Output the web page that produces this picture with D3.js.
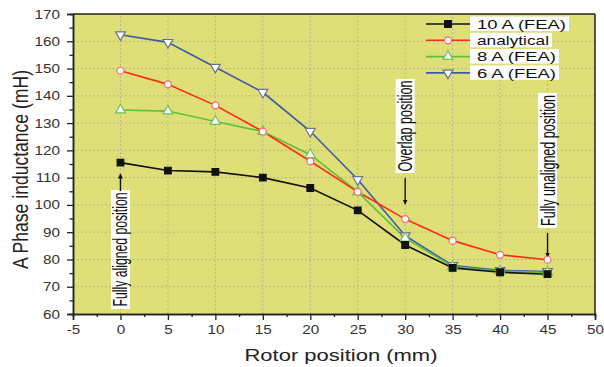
<!DOCTYPE html>
<html>
<head>
<meta charset="utf-8">
<script src="https://cdn.jsdelivr.net/npm/d3@7/dist/d3.min.js"></script>
<style>
  html, body { margin: 0; padding: 0; background: #fff; }
  svg { display: block; font-family: Arial, "Liberation Sans", Helvetica, sans-serif; }
</style>
</head>
<body>
<svg id="chart" width="604" height="367"></svg>
<script>
// Rotor positions (mm)
const positions = [0, 5, 10, 15, 20, 25, 30, 35, 40, 45];

// Phase inductance (mH) for each series
const fea10A     = [115.5, 112.6, 112.1, 110.0, 106.2, 98.0, 85.3, 76.9, 75.3, 74.6];
const analytical = [149.2, 144.2, 136.5, 126.9, 116.0, 104.8, 94.8, 86.9, 81.7, 79.9];
const fea8A      = [134.8, 134.4, 130.6, 126.9, 118.4, 104.8, 87.8, 77.4, 75.7, 75.2];
const fea6A      = [162.4, 159.6, 150.5, 141.3, 127.0, 109.3, 88.7, 77.8, 76.0, 75.6];

const seriesNames = ["10 A (FEA)", "analytical", "8 A (FEA)", "6 A (FEA)"];

const xTicks = [-5, 0, 5, 10, 15, 20, 25, 30, 35, 40, 45, 50];
const yTicks = [60, 70, 80, 90, 100, 110, 120, 130, 140, 150, 160, 170];

// Annotated rotor positions
const noteLabels = ["Fully aligned position", "Overlap position", "Fully unaligned position"];
const notePositions = [0, 30, 45];

const svg = d3.select("#chart");
const margin = { left: 73, right: 9, top: 14, bottom: 53 };
const W = 604, H = 367;

const x = d3.scaleLinear().domain([-5, 50]).range([margin.left, W - margin.right]);
const y = d3.scaleLinear().domain([60, 170]).range([H - margin.bottom, margin.top]);

// Text is drawn wide along the horizontal direction
function widen(sel, k) {
  sel.each(function () {
    const len = this.getComputedTextLength();
    d3.select(this).attr("textLength", len * k).attr("lengthAdjust", "spacingAndGlyphs");
  });
}

// Plot background
svg.append("rect")
  .attr("x", x(-5)).attr("y", y(170))
  .attr("width", x(50) - x(-5)).attr("height", y(60) - y(170))
  .attr("fill", "#dfdf78");

// Dotted grid at major ticks
const grid = svg.append("g").attr("stroke", "#a8a8a0").attr("stroke-width", 1)
  .attr("stroke-dasharray", "1.5,2.5");
xTicks.filter(t => t > -5 && t < 50).forEach(t => {
  grid.append("line").attr("x1", x(t)).attr("x2", x(t)).attr("y1", y(60)).attr("y2", y(170));
});
yTicks.filter(t => t > 60 && t < 170).forEach(t => {
  grid.append("line").attr("x1", x(-5)).attr("x2", x(50)).attr("y1", y(t)).attr("y2", y(t));
});

// Axes
const fmt = d => String(d);
const xAxis = d3.axisBottom(x).tickValues(xTicks).tickSize(6).tickPadding(5).tickFormat(fmt);
const yAxis = d3.axisLeft(y).tickValues(yTicks).tickSize(6).tickPadding(7).tickFormat(fmt);
const xMinor = d3.axisBottom(x).tickValues(d3.range(-2.5, 50, 5)).tickSize(3).tickFormat("");
const yMinor = d3.axisLeft(y).tickValues(d3.range(65, 170, 10)).tickSize(3.5).tickFormat("");

function styleAxis(g) {
  g.select(".domain").attr("stroke", "#222").attr("stroke-width", 1.5);
  g.selectAll(".tick line").attr("stroke", "#222").attr("stroke-width", 1.3);
  g.selectAll(".tick text").attr("fill", "#333").style("font-size", "12.5px");
}
svg.append("g").attr("transform", `translate(0,${y(60)})`).call(xAxis).call(styleAxis)
  .selectAll(".tick text").call(widen, 1.22);
svg.append("g").attr("transform", `translate(0,${y(60)})`).call(xMinor).call(styleAxis);
svg.append("g").attr("transform", `translate(${x(-5)},0)`).call(yAxis).call(styleAxis)
  .selectAll(".tick text").call(widen, 1.22);
svg.append("g").attr("transform", `translate(${x(-5)},0)`).call(yMinor).call(styleAxis);

// Top and right frame
svg.append("line").attr("x1", x(-5)).attr("x2", x(50)).attr("y1", y(170)).attr("y2", y(170))
  .attr("stroke", "#222").attr("stroke-width", 1.5);
svg.append("line").attr("x1", x(50)).attr("x2", x(50)).attr("y1", y(170)).attr("y2", y(60))
  .attr("stroke", "#222").attr("stroke-width", 1.5);

// Axis titles
svg.append("text").attr("x", 341).attr("y", 361)
  .attr("text-anchor", "middle").attr("fill", "#222").style("font-size", "17px")
  .attr("textLength", 193).attr("lengthAdjust", "spacingAndGlyphs")
  .text("Rotor position (mm)");
svg.append("text")
  .attr("transform", `translate(28,169.5) rotate(-90)`)
  .attr("text-anchor", "middle").attr("fill", "#222").style("font-size", "21.5px")
  .attr("textLength", 199).attr("lengthAdjust", "spacingAndGlyphs")
  .text("A Phase inductance (mH)");

// Arrow marker
const defs = svg.append("defs");
defs.append("marker").attr("id", "arrow").attr("viewBox", "0 0 10 10")
  .attr("refX", 9).attr("refY", 5).attr("markerWidth", 5).attr("markerHeight", 7)
  .attr("markerUnits", "userSpaceOnUse").attr("orient", "auto")
  .append("path").attr("d", "M0,0 L10,5 L0,10 z").attr("fill", "#111");

// Annotations: vertical labels on white boxes with arrows pointing at the curves
const notes = [
  { label: noteLabels[0], pos: notePositions[0], boxTop: 190, boxBottom: 309, len: 114, arrow: [191, 174] },
  { label: noteLabels[1], pos: notePositions[1], boxTop: 79, boxBottom: 173, len: 91, arrow: [178, 204] },
  { label: noteLabels[2], pos: notePositions[2], boxTop: 93, boxBottom: 228, len: 131, arrow: [233, 257] }
];
notes.forEach(n => {
  const cx = x(n.pos);
  svg.append("rect").attr("x", cx - 9.5).attr("y", n.boxTop)
    .attr("width", 19).attr("height", n.boxBottom - n.boxTop).attr("fill", "#fff");
  svg.append("text")
    .attr("transform", `translate(${cx + 7},${(n.boxTop + n.boxBottom) / 2}) rotate(-90)`)
    .attr("text-anchor", "middle").attr("fill", "#111").style("font-size", "21px")
    .attr("textLength", n.len).attr("lengthAdjust", "spacingAndGlyphs")
    .text(n.label);
  svg.append("line").attr("x1", cx).attr("x2", cx).attr("y1", n.arrow[0]).attr("y2", n.arrow[1])
    .attr("stroke", "#111").attr("stroke-width", 1.4).attr("marker-end", "url(#arrow)");
});

// Series definitions
const symSquare = d3.symbol().type(d3.symbolSquare).size(44);
const symCircle = d3.symbol().type(d3.symbolCircle).size(38);
const symTri = d3.symbol().type(d3.symbolTriangle).size(42);
const series = [
  { name: seriesNames[0], values: fea10A, color: "#111", sym: symSquare, fill: "#111", stroke: "#111", rot: 0, len: 89 },
  { name: seriesNames[1], values: analytical, color: "#ff2a1a", sym: symCircle, fill: "#fff", stroke: "#f26b6b", rot: 0, len: 72 },
  { name: seriesNames[2], values: fea8A, color: "#5dc03a", sym: symTri, fill: "#fff", stroke: "#6cc05a", rot: 0, len: 79 },
  { name: seriesNames[3], values: fea6A, color: "#3b5ba8", sym: symTri, fill: "#fff", stroke: "#6a7090", rot: 180, len: 79 }
];

const line = d3.line().x(d => x(d[0])).y(d => y(d[1]));
const drawOrder = [3, 2, 1, 0];
drawOrder.forEach(i => {
  const s = series[i];
  const pts = positions.map((p, k) => [p, s.values[k]]);
  svg.append("path").datum(pts).attr("d", line)
    .attr("fill", "none").attr("stroke", s.color).attr("stroke-width", 1.6);
});
drawOrder.forEach(i => {
  const s = series[i];
  const pts = positions.map((p, k) => [p, s.values[k]]);
  svg.append("g").selectAll("path").data(pts).join("path")
    .attr("d", s.sym)
    .attr("transform", d => `translate(${x(d[0])},${y(d[1])}) rotate(${s.rot})`)
    .attr("fill", s.fill).attr("stroke", s.stroke).attr("stroke-width", 1.2);
});

// Legend
const legend = svg.append("g");
series.forEach((s, i) => {
  const ly = 24 + i * 16.3;
  legend.append("rect").attr("x", 470).attr("y", ly - 7.5).attr("height", 14.5)
    .attr("width", s.len + 10).attr("fill", "#fff");
  legend.append("line").attr("x1", 426).attr("x2", 470).attr("y1", ly).attr("y2", ly)
    .attr("stroke", s.color).attr("stroke-width", 1.6);
  legend.append("path").attr("d", s.sym)
    .attr("transform", `translate(448,${ly}) rotate(${s.rot})`)
    .attr("fill", s.fill).attr("stroke", s.stroke).attr("stroke-width", 1.2);
  legend.append("text").attr("x", 477).attr("y", ly + 4.8)
    .attr("fill", "#111").style("font-size", "13.5px")
    .attr("textLength", s.len).attr("lengthAdjust", "spacingAndGlyphs")
    .text(s.name);
});
</script>
</body>
</html>
